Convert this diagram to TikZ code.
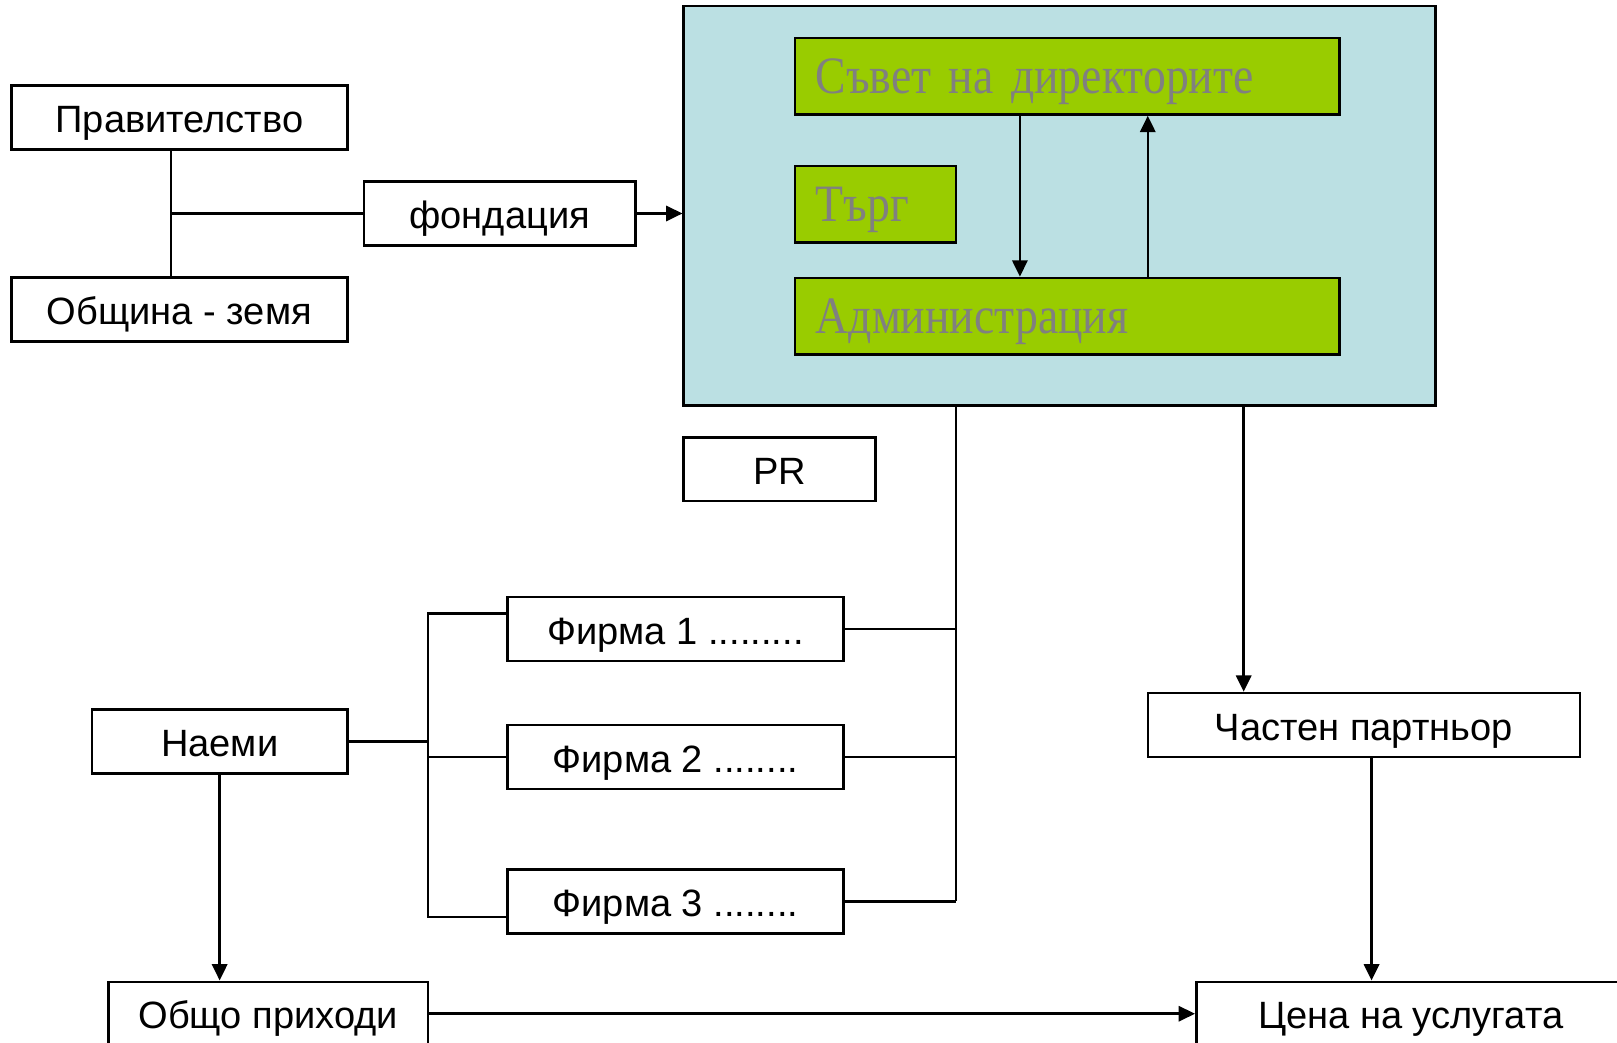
\documentclass[tikz,border=0pt]{standalone}
\usepackage{fontspec}
\setmainfont{Liberation Sans}
\newfontfamily\boardfont[FakeStretch=0.87,WordSpace=0.75]{Liberation Serif}
\usetikzlibrary{arrows.meta}

\definecolor{panelblue}{RGB}{187,224,227}
\definecolor{boardgreen}{RGB}{153,204,0}
\definecolor{boardtext}{RGB}{128,128,128}

\tikzset{
  box/.style={draw,line width=0.7pt,minimum height=0.62cm,inner sep=0pt,
    text height=8.4pt,text depth=0pt,font=\fontsize{10.5}{12}\selectfont},
  inbox/.style={draw,line width=0.7pt,fill=boardgreen,minimum height=0.74cm,
    inner xsep=0.2cm,inner ysep=0pt,align=left,text=boardtext,
    text height=9.6pt,text depth=0pt,
    font=\boardfont\fontsize{14.5}{16}\selectfont},
  link/.style={line width=0.7pt},
  arr/.style={line width=0.7pt,-{Triangle[length=4.5pt,width=4.2pt]}}
}

\begin{document}
\begin{tikzpicture}[x=0.1mm,y=-0.1mm]
\useasboundingbox (0,0) rectangle (1568,1011);

% sources
\node[box,minimum width=3.26cm] (gov)  at (174,114) {Правителство};
\node[box,minimum width=3.26cm] (muni) at (174,300) {Община - земя};
\node[box,minimum width=2.63cm] (fund) at (484.5,207) {фондация};

% organisation
\node[draw,line width=0.7pt,fill=panelblue,minimum width=7.29cm,
  minimum height=3.87cm] (panel) at (1027.5,199.5) {};
\node[inbox,text width=4.88cm] (board) at (1035,74)    {Съвет на директорите};
\node[inbox,text width=1.16cm] (bid)   at (849,198)    {Търг};
\node[inbox,text width=4.88cm] (admin) at (1035,306.5) {Администрация};

\node[box,minimum width=1.86cm] (pr) at (756,455) {PR};

% firms
\node[box,minimum width=3.26cm] (firm1) at (655,610) {Фирма 1 .........};
\node[box,minimum width=3.26cm] (firm2) at (655,734) {Фирма 2 ........};
\node[box,minimum width=3.26cm] (firm3) at (655,874) {Фирма 3 ........};

\node[box,minimum width=2.48cm] (rent)    at (213,719)    {Наеми};
\node[box,minimum width=3.10cm] (income)  at (260,983)    {Общо приходи};
\node[box,minimum width=4.19cm] (partner) at (1322.5,703) {Частен партньор};
\node[box,minimum width=4.16cm] (price)   at (1368,983)   {Цена на услугата};

\coordinate (govx)   at (166,207);
\coordinate (downx)  at (989,0);
\coordinate (upx)    at (1113,0);
\coordinate (busR)   at (927,0);
\coordinate (busL)   at (415,0);
\coordinate (outx)   at (1206,0);
\coordinate (pricex) at (1330,0);
\coordinate (f1in) at ([yshift=1.5mm]firm1.west);
\coordinate (f3in) at ([yshift=-1.5mm]firm3.west);

\draw[link] (gov.south -| govx) -- (muni.north -| govx);
\draw[link] (govx) -- (fund.west);
\draw[arr] (fund.east) -- (panel.west |- fund.east);

\draw[arr] (board.south -| downx) -- (admin.north -| downx);
\draw[arr] (admin.north -| upx) -- (board.south -| upx);

\draw[link] (panel.south -| busR) -- (firm3.east -| busR);
\draw[link] (firm1.east) -- (firm1.east -| busR);
\draw[link] (firm2.east) -- (firm2.east -| busR);
\draw[link] (firm3.east) -- (firm3.east -| busR);

\draw[link] (f1in) -- (f1in -| busL) -- (f3in -| busL) -- (f3in);
\draw[link] (firm2.west) -- (firm2.west -| busL);
\draw[link] (rent.east) -- (rent.east -| busL);

\draw[arr] (rent.south) -- (rent.south |- income.north);
\draw[arr] (income.east) -- (price.west);
\draw[arr] (panel.south -| outx) -- (partner.north -| outx);
\draw[arr] (partner.south -| pricex) -- (price.north -| pricex);

\end{tikzpicture}
\end{document}
